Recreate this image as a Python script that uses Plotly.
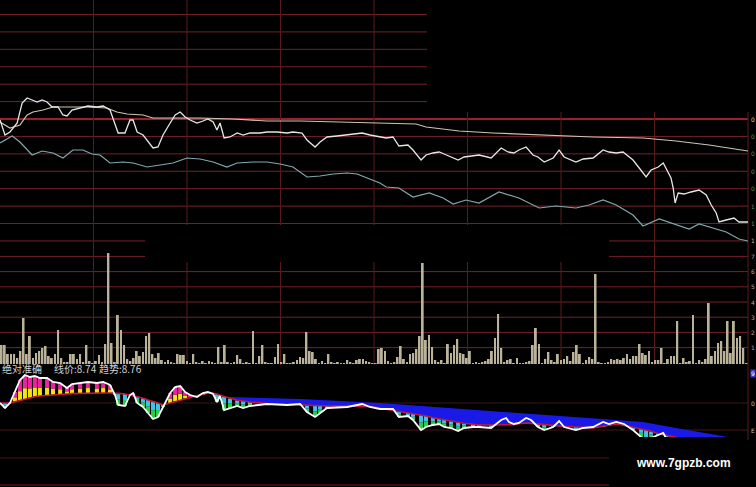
import plotly.graph_objects as go

W, H = 756, 487

# ---------------- price panel (minutes from open -> price) ----------------
price_t = [0, 1.6, 3.2, 5.5, 7.1, 8.7, 10.3, 11.9, 13.5, 15.1, 16.7, 18.6, 20.2, 21.5, 23.1, 25.7, 28.2, 31.1,
           33.1, 35.3, 36.9, 37.9, 40.1, 41.7, 42.7, 44.0, 45.9, 47.5, 49.1, 50.7, 52.3, 54.6, 56.2, 57.8, 59.4,
           61.0, 63.2, 65.1, 66.7, 68.4, 69.6, 70.6, 71.9, 73.8, 76.1, 78.0, 80.2, 83.4, 85.7, 88.9, 92.1, 94.0,
           96.9, 98.5, 101.1, 102.7, 104.9, 108.1, 111.4, 116.2, 118.7, 121.9, 123.9, 126.1, 128.0, 130.9, 132.5,
           135.1, 136.7, 138.9, 140.9, 142.5, 144.7, 147.0, 148.9, 151.8, 153.7, 157.6, 160.8, 163.0, 164.9,
           166.5, 168.8, 171.0, 172.6, 174.6, 177.5, 179.4, 181.0, 184.8, 187.1, 190.3, 193.5, 195.4, 197.7,
           199.9, 203.1, 205.1, 207.3, 208.9, 211.2, 212.8, 213.7, 215.3, 216.0, 216.6, 217.6, 219.5, 221.7,
           224.3, 226.6, 228.2, 229.8, 230.7, 233.0, 235.5, 237.1, 240]
price_v = [8.860, 8.845, 8.848, 8.857, 8.877, 8.882, 8.880, 8.878, 8.880, 8.878, 8.873, 8.873, 8.865, 8.864,
           8.870, 8.872, 8.874, 8.873, 8.874, 8.870, 8.857, 8.847, 8.847, 8.860, 8.860, 8.848, 8.845, 8.838,
           8.832, 8.833, 8.845, 8.857, 8.865, 8.868, 8.863, 8.860, 8.857, 8.859, 8.861, 8.858, 8.850, 8.857,
           8.842, 8.843, 8.847, 8.845, 8.847, 8.847, 8.848, 8.848, 8.847, 8.848, 8.847, 8.840, 8.833, 8.838,
           8.843, 8.844, 8.845, 8.847, 8.845, 8.843, 8.842, 8.843, 8.834, 8.835, 8.830, 8.820, 8.825, 8.827,
           8.828, 8.826, 8.823, 8.820, 8.823, 8.824, 8.825, 8.822, 8.832, 8.828, 8.827, 8.830, 8.833, 8.825,
           8.823, 8.818, 8.822, 8.830, 8.823, 8.818, 8.821, 8.822, 8.830, 8.828, 8.827, 8.828, 8.820, 8.812,
           8.803, 8.810, 8.813, 8.817, 8.812, 8.802, 8.792, 8.777, 8.787, 8.786, 8.788, 8.790, 8.785, 8.775,
           8.767, 8.758, 8.760, 8.762, 8.758, 8.758]

avg_t = [0, 3.2, 6.4, 8.7, 10.6, 13.8, 17.0, 21.5, 27.9, 34.3, 37.5, 40.8, 45.9, 49.1, 55.5, 64.2, 74.8, 85.7,
         96.3, 106.9, 120.7, 133.5, 136.7, 147.3, 158.2, 174.3, 190.3, 206.3, 216.9, 227.5, 236.2, 240]
avg_v = [8.858, 8.852, 8.855, 8.865, 8.868, 8.870, 8.873, 8.873, 8.873, 8.872, 8.868, 8.866, 8.865, 8.862,
         8.862, 8.862, 8.861, 8.859, 8.859, 8.858, 8.857, 8.856, 8.853, 8.849, 8.847, 8.845, 8.843, 8.842,
         8.839, 8.835, 8.831, 8.829]

index_t = [0, 3.9, 6.4, 10.3, 13.5, 17.0, 20.2, 23.4, 26.6, 29.5, 32.1, 35.3, 39.5, 42.7, 47.2, 51.3, 55.5,
           60.0, 64.2, 68.4, 72.8, 76.1, 81.2, 85.7, 89.9, 94.0, 98.5, 102.7, 106.9, 111.4, 114.6, 117.8, 121.9,
           123.9, 128.0, 132.5, 137.7, 142.2, 145.4, 149.5, 153.7, 160.1, 166.5, 173.0, 178.4, 184.8, 189.0,
           193.5, 197.7, 203.1, 206.3, 211.5, 216.9, 221.1, 224.3, 227.5, 233.0, 237.1, 240]
index_v = [8.837, 8.844, 8.838, 8.825, 8.829, 8.827, 8.822, 8.830, 8.830, 8.826, 8.825, 8.817, 8.818, 8.817,
           8.813, 8.815, 8.817, 8.822, 8.821, 8.818, 8.813, 8.817, 8.818, 8.818, 8.816, 8.813, 8.803, 8.804,
           8.806, 8.807, 8.806, 8.802, 8.797, 8.793, 8.792, 8.783, 8.787, 8.782, 8.776, 8.780, 8.777, 8.788,
           8.782, 8.772, 8.774, 8.772, 8.775, 8.780, 8.775, 8.765, 8.754, 8.761, 8.755, 8.751, 8.756, 8.753,
           8.748, 8.741, 8.739]

# ---------------- volume panel (one bar per minute) ----------------
volume = [19, 19, 10, 10, 10, 6, 13, 46, 10, 28, 6, 11, 13, 16, 18, 8, 6, 10, 34, 6,
          2, 2, 10, 10, 5, 10, 2, 19, 3, 1, 3, 9, 2, 20, 111, 21, 2, 49, 34, 19, 5,
          3, 6, 13, 8, 12, 28, 31, 10, 6, 11, 4, 2, 4, 2, 1, 10, 9, 9, 3, 1,
          10, 2, 1, 3, 1, 3, 2, 1, 17, 2, 19, 2, 1, 2, 9, 5, 1, 2, 1, 33,
          1, 8, 19, 2, 1, 1, 7, 20, 2, 10, 1, 1, 2, 4, 7, 6, 32, 13, 12, 5,
          1, 3, 1, 10, 2, 1, 2, 1, 1, 4, 2, 1, 4, 5, 5, 3, 2, 1, 1, 15,
          16, 13, 3, 1, 2, 7, 18, 5, 2, 10, 11, 15, 28, 101, 24, 29, 17, 4, 2, 4,
          1, 20, 11, 19, 25, 11, 10, 6, 13, 1, 2, 1, 2, 3, 5, 13, 26, 50, 16, 2,
          4, 5, 1, 6, 1, 1, 2, 3, 19, 36, 20, 1, 5, 12, 4, 2, 10, 4, 5, 8,
          3, 12, 19, 10, 1, 4, 7, 5, 90, 2, 1, 1, 2, 5, 4, 5, 4, 6, 10, 5,
          8, 8, 20, 11, 9, 13, 2, 4, 4, 16, 1, 5, 8, 8, 43, 1, 6, 2, 3, 49,
          1, 4, 2, 5, 61, 8, 13, 21, 23, 13, 43, 11, 43, 26, 28, 16, 1]

# ---------------- indicator panel ----------------
ind_t = [0, 1.6, 3.2, 4.8, 6.4, 8.0, 9.6, 11.2, 12.8, 15.1, 17.0, 19.3, 21.5, 23.1, 25.7, 28.2, 31.1, 33.1,
         35.3, 36.9, 37.9, 40.1, 41.7, 42.7, 44.0, 45.9, 47.5, 49.1, 50.7, 52.3, 54.6, 56.2, 57.8, 59.4, 61.0,
         63.2, 65.1, 66.7, 68.4, 69.6, 70.6, 71.9, 73.8, 76.1, 78.0, 80.2, 85.7, 92.1, 96.3, 98.5, 101.1,
         102.7, 104.9, 111.4, 116.2, 118.7, 121.9, 126.1, 128.0, 130.9, 132.5, 135.1, 136.7, 138.9, 140.9,
         142.5, 144.7, 147.0, 148.9, 151.8, 153.7, 157.6, 160.8, 162.4, 163.3, 164.9, 166.5, 168.8, 170.4,
         172.6, 174.6, 177.5, 179.4, 181.0, 184.8, 187.1, 190.3, 193.5, 195.4, 197.7, 200.2, 203.1, 205.7,
         207.3, 208.9, 211.2, 212.8, 213.7, 215.3, 216.6, 221.7, 229.8, 240]
ind_line = [8.889, 8.874, 8.889, 8.922, 8.958, 8.973, 8.967, 8.970, 8.964, 8.964, 8.952, 8.949, 8.934, 8.946,
            8.949, 8.952, 8.949, 8.952, 8.943, 8.913, 8.883, 8.880, 8.913, 8.919, 8.889, 8.877, 8.859, 8.841,
            8.847, 8.877, 8.919, 8.937, 8.940, 8.922, 8.913, 8.907, 8.919, 8.922, 8.916, 8.892, 8.910, 8.868,
            8.874, 8.880, 8.874, 8.880, 8.886, 8.883, 8.886, 8.862, 8.847, 8.859, 8.874, 8.877, 8.886, 8.877,
            8.871, 8.871, 8.847, 8.850, 8.838, 8.808, 8.817, 8.823, 8.826, 8.817, 8.814, 8.805, 8.814, 8.817,
            8.817, 8.814, 8.838, 8.844, 8.832, 8.826, 8.829, 8.844, 8.838, 8.817, 8.808, 8.817, 8.835, 8.817,
            8.808, 8.814, 8.817, 8.832, 8.826, 8.832, 8.826, 8.808, 8.787, 8.763, 8.784, 8.793, 8.799, 8.784,
            8.754, 8.688, 8.718, 8.658, 8.628]
ind_trend = [8.889, 8.889, 8.889, 8.893, 8.897, 8.901, 8.905, 8.908, 8.910, 8.912, 8.914, 8.915, 8.916, 8.917,
             8.918, 8.919, 8.919, 8.919, 8.919, 8.919, 8.918, 8.916, 8.913, 8.911, 8.908, 8.903, 8.898, 8.894,
             8.889, 8.883, 8.889, 8.894, 8.898, 8.903, 8.907, 8.911, 8.915, 8.919, 8.918, 8.916, 8.912, 8.908,
             8.902, 8.897, 8.895, 8.892, 8.887, 8.884, 8.883, 8.882, 8.882, 8.881, 8.880, 8.880, 8.880, 8.878,
             8.873, 8.867, 8.864, 8.860, 8.857, 8.853, 8.850, 8.845, 8.841, 8.838, 8.834, 8.831, 8.828, 8.824,
             8.823, 8.823, 8.823, 8.823, 8.823, 8.824, 8.827, 8.829, 8.828, 8.826, 8.824, 8.822, 8.820, 8.819,
             8.817, 8.816, 8.814, 8.819, 8.822, 8.826, 8.822, 8.816, 8.812, 8.808, 8.804, 8.797, 8.794, 8.792,
             8.789, 8.787, 8.773, 8.748, 8.718]
band_t = [72.8, 83.4, 96.3, 109.1, 121.9, 152.7, 184.8, 206.3, 216.9, 233.6, 240]
band_top = [8.907, 8.904, 8.901, 8.895, 8.889, 8.868, 8.847, 8.832, 8.814, 8.787, 8.772]

header_texts = ["绝对准确", "线价:8.74", "趋势:8.76"]
watermark = "www.7gpzb.com"
price_edge_labels = ["0", "0", "0", "0", "0", "1", "1", "1"]
volume_edge_labels = ["7", "6", "5", "4", "3", "2", "1"]
ind_edge_labels = ["9", "0", "E"]

# ---------------- layout helpers ----------------
def px(x):
    return x / W


def py(y):
    return 1 - y / H


XD = [0, 748 / W]

fig = go.Figure()

# price panel
fig.add_trace(go.Scatter(x=index_t, y=index_v, mode="lines", line=dict(color="#7fa9ad", width=1.2),
                         xaxis="x", yaxis="y", hoverinfo="skip"))
fig.add_trace(go.Scatter(x=avg_t, y=avg_v, mode="lines", line=dict(color="#cdc5ae", width=1.2),
                         xaxis="x", yaxis="y", hoverinfo="skip"))
fig.add_trace(go.Scatter(x=price_t, y=price_v, mode="lines", line=dict(color="#e6e6e6", width=1.3),
                         xaxis="x", yaxis="y", hoverinfo="skip"))

# volume
fig.add_trace(go.Bar(x=list(range(len(volume))), y=volume, width=0.6,
                     marker=dict(color="#bab39a", line=dict(width=0)), xaxis="x2", yaxis="y2",
                     hoverinfo="skip"))

# indicator: blue band between band_top and trend
sub_t = [t for t in ind_t if t >= 71.9]
sub_s = [s for t, s in zip(ind_t, ind_trend) if t >= 71.9]
fig.add_trace(go.Scatter(x=sub_t, y=sub_s, mode="lines", line=dict(width=0, color="rgba(0,0,0,0)"),
                         xaxis="x3", yaxis="y3", hoverinfo="skip"))
fig.add_trace(go.Scatter(x=band_t, y=band_top, mode="lines", line=dict(width=0, color="#1c1cf0"),
                         fill="tonexty", fillcolor="#1a1ae8", xaxis="x3", yaxis="y3", hoverinfo="skip"))

lo_b, lo_h, lo_c, up_b, up_h, up_c = [], [], [], [], [], []
for t, f, s in zip(ind_t, ind_line, ind_trend):
    d = f - s
    if d >= 0:
        lo_b.append(s); lo_h.append(0.45 * d); lo_c.append("#f2e414")
        up_b.append(s + 0.45 * d); up_h.append(0.55 * d); up_c.append("#e8249e")
    else:
        lo_b.append(f); lo_h.append(-0.5 * d); lo_c.append("#2ccc44")
        up_b.append(f - 0.5 * d); up_h.append(-0.5 * d); up_c.append("#3cc4e6")
fig.add_trace(go.Bar(x=ind_t, y=lo_h, base=lo_b, width=1.3, marker=dict(color=lo_c, line=dict(width=0)),
                     xaxis="x3", yaxis="y3", hoverinfo="skip"))
fig.add_trace(go.Bar(x=ind_t, y=up_h, base=up_b, width=1.3, marker=dict(color=up_c, line=dict(width=0)),
                     xaxis="x3", yaxis="y3", hoverinfo="skip"))
fig.add_trace(go.Scatter(x=ind_t, y=ind_trend, mode="lines", line=dict(color="#c8163a", width=1.6),
                         xaxis="x3", yaxis="y3", hoverinfo="skip"))
fig.add_trace(go.Scatter(x=ind_t, y=ind_line, mode="lines", line=dict(color="#ffffff", width=1.8),
                         xaxis="x3", yaxis="y3", hoverinfo="skip"))

# ---------------- grid shapes (paper coords) ----------------
shapes = []
GRID = "#74202a"
VGRID = "#5a1a1c"
for k in range(-6, 8):
    yy = 119 + 17.42 * k
    col = "#d02a3e" if k == 0 else GRID
    shapes.append(dict(type="line", xref="paper", yref="paper", x0=0, x1=px(748), y0=py(yy), y1=py(yy),
                       line=dict(color=col, width=1.4 if k == 0 else 1), layer="below"))
for j in range(1, 8):
    yy = 241.2 + 15.2 * j
    shapes.append(dict(type="line", xref="paper", yref="paper", x0=0, x1=px(748), y0=py(yy), y1=py(yy),
                       line=dict(color=GRID, width=1), layer="below"))
for yy, x1, col in [(403, 748, "#3a1414"), (430, 748, "#4a1616"), (458, 609, "#4a1616"), (485, 609, "#6a2014")]:
    shapes.append(dict(type="line", xref="paper", yref="paper", x0=0, x1=px(x1), y0=py(yy), y1=py(yy),
                       line=dict(color=col, width=1), layer="below"))
for i in range(1, 9):
    xx = 93.5 * i
    y1 = 440 if i == 8 else 365
    shapes.append(dict(type="line", xref="paper", yref="paper", x0=px(xx), x1=px(xx), y0=py(0), y1=py(y1),
                       line=dict(color=VGRID, width=1), layer="below"))
# masked (blank) regions of the screenshot
shapes.append(dict(type="rect", xref="paper", yref="paper", x0=px(427), x1=1, y0=py(0), y1=py(112),
                   fillcolor="black", line=dict(width=0), layer="below"))
shapes.append(dict(type="rect", xref="paper", yref="paper", x0=px(145), x1=px(609), y0=py(225), y1=py(262),
                   fillcolor="black", line=dict(width=0), layer="below"))

# ---------------- annotations ----------------
ann = []
for txt, xx in zip(header_texts, [0, 52, 97]):
    ann.append(dict(text=txt, x=px(xx), y=py(368), xref="paper", yref="paper", xanchor="left",
                    yanchor="middle", showarrow=False,
                    font=dict(family="Noto Sans CJK SC", size=10, color="#d4d4d4")))
ann.append(dict(text="<b>" + watermark + "</b>", x=px(683), y=py(463), xref="paper", yref="paper",
                xanchor="center", yanchor="middle", showarrow=False,
                font=dict(family="Liberation Sans", size=12, color="#ffffff")))
pcols = ["#d0d0d0"] + ["#3aa43a"] * 6 + ["#c8c060"]
edge = dict(xref="paper", yref="paper", xanchor="left", yanchor="middle", showarrow=False, borderpad=0)
for k, (lab, col) in enumerate(zip(price_edge_labels, pcols)):
    ann.append(dict(text=lab, x=px(750), y=py(119 + 17.42 * k),
                    font=dict(family="DejaVu Sans", size=6, color=col), **edge))
for j, lab in enumerate(volume_edge_labels):
    ann.append(dict(text=lab, x=px(750), y=py(256.4 + 15.2 * j),
                    font=dict(family="DejaVu Sans", size=6, color="#a8a8a8"), **edge))
for lab, yy, bg in zip(ind_edge_labels, [373, 403, 430], ["#3c3cc8", None, None]):
    d = dict(text=lab, x=px(750), y=py(yy), font=dict(family="DejaVu Sans", size=6, color="#c0c0c0"), **edge)
    if bg:
        d["bgcolor"] = bg
        d["font"]["color"] = "#ffffff"
    ann.append(d)

hidden = dict(visible=False, showgrid=False, zeroline=False, fixedrange=True)
fig.update_layout(
    width=W, height=H, margin=dict(l=0, r=0, t=0, b=0),
    paper_bgcolor="black", plot_bgcolor="rgba(0,0,0,0)",
    showlegend=False, barmode="overlay", hovermode=False,
    xaxis=dict(domain=XD, range=[0, 240], **hidden),
    yaxis=dict(domain=[py(245), 1], range=[8.735, 8.98], **hidden),
    xaxis2=dict(domain=XD, range=[-0.5, len(volume) - 0.5], **hidden),
    yaxis2=dict(domain=[py(364), py(241)], range=[0, 123], **hidden),
    xaxis3=dict(domain=XD, range=[0, 240], **hidden),
    yaxis3=dict(domain=[py(437), py(366)], range=[8.787, 9.0], **hidden),
    shapes=shapes, annotations=ann,
)

fig.write_html("out.html", config={"displayModeBar": False},
               post_script="document.body.style.margin='0';document.body.style.background='black';")
